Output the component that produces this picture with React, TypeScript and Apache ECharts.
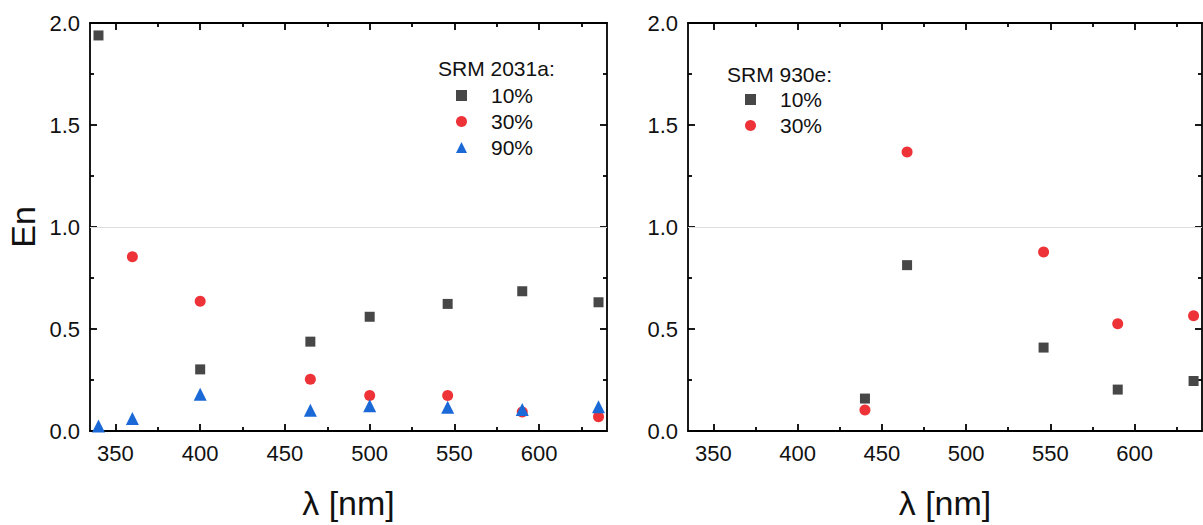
import React, { useEffect, useRef } from "react";
import * as echarts from "echarts";

// ---- data ----
const majorX = [350, 400, 450, 500, 550, 600];
const minorX = [375, 425, 475, 525, 575, 625];

const left10X = [340, 400, 465, 500, 546, 590, 635];
const left10Y = [1.939, 0.302, 0.438, 0.56, 0.623, 0.685, 0.631];
const left30X = [360, 400, 465, 500, 546, 590, 635];
const left30Y = [0.854, 0.636, 0.254, 0.174, 0.174, 0.093, 0.07];
const left90X = [340, 360, 400, 465, 500, 546, 590, 635];
const left90Y = [0.024, 0.061, 0.18, 0.102, 0.124, 0.116, 0.105, 0.119];

const right10X = [440, 465, 546, 590, 635];
const right10Y = [0.159, 0.813, 0.409, 0.203, 0.245];
const right30X = [440, 465, 546, 590, 635];
const right30Y = [0.103, 1.368, 0.877, 0.526, 0.565];

const leftLegendTitle = "SRM 2031a:";
const rightLegendTitle = "SRM 930e:";

const zip = (xs: number[], ys: number[]) => xs.map((x, i) => [x, ys[i]]);

const FONT = "'Liberation Sans', Arial, sans-serif";
const C10 = "#474747";
const C30 = "#ee3338";
const C90 = "#1a69d6";

export default function App() {
  const ref = useRef<HTMLDivElement>(null);

  useEffect(() => {
    if (!ref.current) return;
    const chart = echarts.init(ref.current, undefined, { renderer: "svg" });

    const grids = [
      { left: 90, top: 23, width: 517, height: 417 },
      { left: 688, top: 23, width: 514, height: 417 },
    ];

    const lineSt = { color: "#000", width: 1.8 };
    const xAxes: any[] = [];
    const yAxes: any[] = [];
    grids.forEach((_, g) => {
      xAxes.push({
        type: "value", gridIndex: g, min: 335, max: 640, position: "bottom",
        axisLine: { show: true, onZero: false, lineStyle: lineSt },
        axisTick: { show: true, inside: true, length: 7, customValues: majorX, lineStyle: lineSt },
        axisLabel: { show: true, customValues: majorX, fontSize: 22, color: "#111", margin: 11, fontFamily: FONT },
        splitLine: { show: false },
        name: "λ [nm]", nameLocation: "middle", nameGap: 55,
        nameTextStyle: { fontSize: 34, color: "#111", fontFamily: FONT },
      });
      xAxes.push({
        type: "value", gridIndex: g, min: 335, max: 640, position: "bottom",
        axisLine: { show: false, onZero: false },
        axisTick: { show: true, inside: true, length: 4, customValues: minorX, lineStyle: lineSt },
        axisLabel: { show: false }, splitLine: { show: false },
      });
      xAxes.push({
        type: "value", gridIndex: g, min: 335, max: 640, position: "top",
        axisLine: { show: true, onZero: false, lineStyle: lineSt },
        axisTick: { show: true, inside: true, length: 7, customValues: majorX, lineStyle: lineSt },
        axisLabel: { show: false }, splitLine: { show: false },
      });
      xAxes.push({
        type: "value", gridIndex: g, min: 335, max: 640, position: "top",
        axisLine: { show: false, onZero: false },
        axisTick: { show: true, inside: true, length: 4, customValues: minorX, lineStyle: lineSt },
        axisLabel: { show: false }, splitLine: { show: false },
      });
      yAxes.push({
        type: "value", gridIndex: g, min: 0, max: 2, interval: 0.5, position: "left",
        axisLine: { show: true, onZero: false, lineStyle: lineSt },
        axisTick: { show: true, inside: true, length: 7, lineStyle: lineSt },
        minorTick: { show: true, splitNumber: 2, length: 4, lineStyle: lineSt },
        axisLabel: { show: true, fontSize: 22, color: "#111", margin: 10, fontFamily: FONT, formatter: (v: number) => v.toFixed(1) },
        splitLine: { show: false },
        name: g === 0 ? "En" : "", nameLocation: "middle", nameGap: 50,
        nameTextStyle: { fontSize: 34, color: "#111", fontFamily: FONT },
      });
      yAxes.push({
        type: "value", gridIndex: g, min: 0, max: 2, interval: 0.5, position: "right",
        axisLine: { show: true, onZero: false, lineStyle: lineSt },
        axisTick: { show: true, inside: true, length: 7, lineStyle: lineSt },
        minorTick: { show: true, splitNumber: 2, length: 4, lineStyle: lineSt },
        axisLabel: { show: false }, splitLine: { show: false },
      });
    });

    const refLine = {
      silent: true, symbol: "none", label: { show: false },
      lineStyle: { color: "#dedede", width: 1, type: "solid" },
      data: [{ yAxis: 1 }],
    };

    const series: any[] = [
      { name: "10%", type: "scatter", xAxisIndex: 0, yAxisIndex: 0, symbol: "rect", symbolSize: 10,
        itemStyle: { color: C10, opacity: 1 }, data: zip(left10X, left10Y), markLine: refLine },
      { name: "30%", type: "scatter", xAxisIndex: 0, yAxisIndex: 0, symbol: "circle", symbolSize: 11,
        itemStyle: { color: C30, opacity: 1 }, data: zip(left30X, left30Y) },
      { name: "90%", type: "scatter", xAxisIndex: 0, yAxisIndex: 0, symbol: "triangle", symbolSize: 13,
        itemStyle: { color: C90, opacity: 1 }, data: zip(left90X, left90Y) },
      { name: "10%", type: "scatter", xAxisIndex: 4, yAxisIndex: 2, symbol: "rect", symbolSize: 10,
        itemStyle: { color: C10, opacity: 1 }, data: zip(right10X, right10Y), markLine: refLine },
      { name: "30%", type: "scatter", xAxisIndex: 4, yAxisIndex: 2, symbol: "circle", symbolSize: 11,
        itemStyle: { color: C30, opacity: 1 }, data: zip(right30X, right30Y) },
    ];

    const legendCommon = {
      orient: "vertical", padding: 0, itemGap: 5, itemWidth: 11, itemHeight: 11,
      selectedMode: false,
      textStyle: { fontSize: 21, color: "#111", fontFamily: FONT, lineHeight: 21, padding: [0, 0, 0, 19] },
    };

    chart.setOption({
      animation: false,
      backgroundColor: "#fff",
      textStyle: { fontFamily: FONT },
      grid: grids,
      xAxis: xAxes,
      yAxis: yAxes,
      legend: [
        { ...legendCommon, left: 456, top: 85, data: ["10%", "30%", "90%"] },
        { ...legendCommon, left: 745, top: 89, data: ["10%", "30%"] },
      ],
      graphic: [
        { type: "text", left: 438, top: 58, style: { text: leftLegendTitle, fontSize: 21, fill: "#111", fontFamily: FONT } },
        { type: "text", left: 727, top: 64, style: { text: rightLegendTitle, fontSize: 21, fill: "#111", fontFamily: FONT } },
      ],
      series,
    });

    return () => chart.dispose();
  }, []);

  return (
    <div
      ref={ref}
      style={{ position: "fixed", left: 0, top: 0, width: 1203, height: 525, background: "#fff" }}
    />
  );
}
